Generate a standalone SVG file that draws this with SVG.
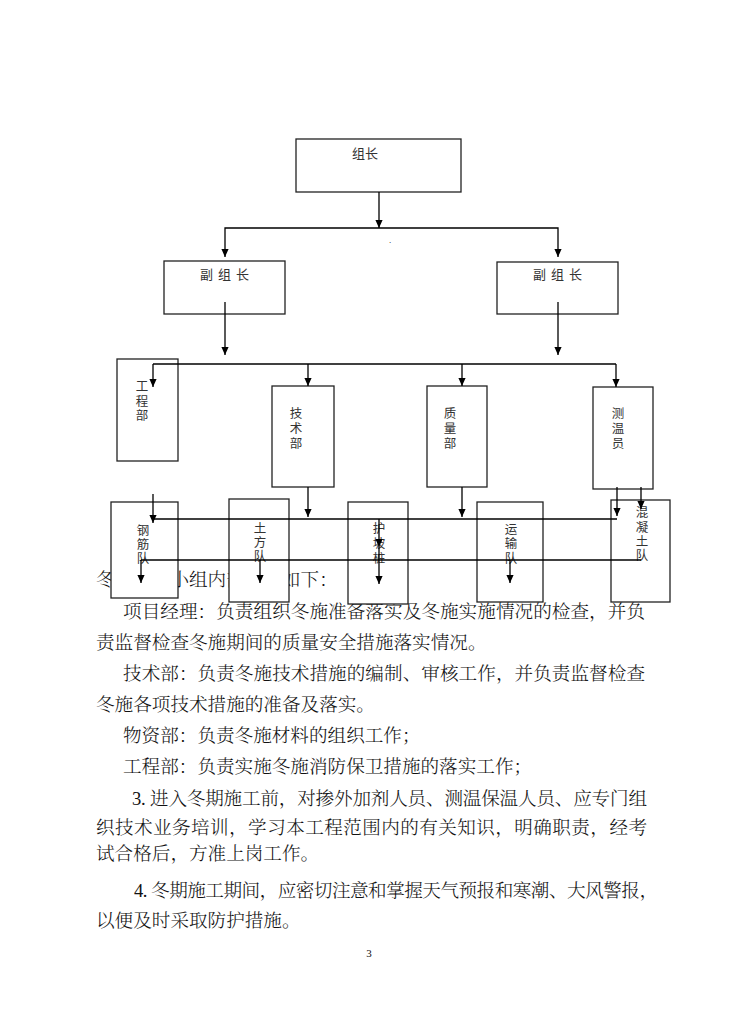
<svg xmlns="http://www.w3.org/2000/svg" width="738" height="1024" viewBox="0 0 738 1024">
<defs>
<style>
.box{fill:#fff;stroke:#222;stroke-width:1.3}
.lbl{font-family:"Noto Sans CJK SC","Noto Sans",sans-serif;font-size:13px;fill:#333}
.vl{font-family:"Noto Sans CJK SC","Noto Sans",sans-serif;font-size:12.5px;fill:#333;text-anchor:middle}
.ln{stroke:#000;stroke-width:1.3;fill:none}
.ar{stroke:#000;stroke-width:1.3;fill:none;marker-end:url(#ah)}
.body{font-family:"Liberation Serif","Noto Serif CJK SC","Noto Sans CJK SC",serif;font-size:18.6px;font-weight:300;fill:#111}
</style>
<marker id="ah" markerUnits="userSpaceOnUse" markerWidth="10" markerHeight="10" viewBox="0 -5 10 10" refX="8" refY="0" orient="auto">
<path d="M0,-3.6 L8,0 L0,3.6 Z" fill="#000"/>
</marker>
</defs>
<rect width="738" height="1024" fill="#fff"/>

<g id="body-text" class="body">
<text x="96" y="586">冬季施工小组内部分工如下：</text>
<text x="123" y="618" textLength="522" lengthAdjust="spacing">项目经理：负责组织冬施准备落实及冬施实施情况的检查，并负</text>
<text x="96" y="649">责监督检查冬施期间的质量安全措施落实情况。</text>
<text x="123" y="680" textLength="522" lengthAdjust="spacing">技术部：负责冬施技术措施的编制、审核工作，并负责监督检查</text>
<text x="96" y="711">冬施各项技术措施的准备及落实。</text>
<text x="123" y="742">物资部：负责冬施材料的组织工作；</text>
<text x="123" y="773">工程部：负责实施冬施消防保卫措施的落实工作；</text>
<text x="132" y="805" textLength="515" lengthAdjust="spacing">3. 进入冬期施工前，对掺外加剂人员、测温保温人员、应专门组</text>
<text x="96" y="834" textLength="551" lengthAdjust="spacing">织技术业务培训，学习本工程范围内的有关知识，明确职责，经考</text>
<text x="96" y="860">试合格后，方准上岗工作。</text>
<text x="134" y="897" textLength="524" lengthAdjust="spacing">4. 冬期施工期间，应密切注意和掌握天气预报和寒潮、大风警报，</text>
<text x="96" y="927">以便及时采取防护措施。</text>
<text x="369" y="957" text-anchor="middle" style="font-size:11px">3</text>
</g>

<g id="n-zuzhang"><rect class="box" x="296" y="139" width="165" height="53"/><text class="lbl" x="352" y="158">组长</text></g>
<g id="n-fuzuzhang-l"><rect class="box" x="164" y="261" width="121" height="53"/><text class="lbl" x="200" y="279" textLength="49" lengthAdjust="spacing">副 组 长</text></g>
<g id="n-fuzuzhang-r"><rect class="box" x="497" y="262" width="121" height="52"/><text class="lbl" x="533" y="279" textLength="49" lengthAdjust="spacing">副 组 长</text></g>
<text x="389" y="243" style="font-family:'Liberation Sans',sans-serif;font-size:8px">.</text>

<g id="n-gongcheng"><rect class="box" x="117" y="359" width="61" height="102"/>
<text class="vl" x="142"><tspan x="142" y="391">工</tspan><tspan x="142" y="405.5">程</tspan><tspan x="142" y="420">部</tspan></text></g>
<g id="n-jishu"><rect class="box" x="272" y="386" width="62" height="101"/>
<text class="vl" x="296"><tspan x="296" y="418">技</tspan><tspan x="296" y="433">术</tspan><tspan x="296" y="448">部</tspan></text></g>
<g id="n-zhiliang"><rect class="box" x="427" y="386" width="60" height="101"/>
<text class="vl" x="450"><tspan x="450" y="418">质</tspan><tspan x="450" y="433">量</tspan><tspan x="450" y="448">部</tspan></text></g>
<g id="n-cewen"><rect class="box" x="593" y="387" width="60" height="102"/>
<text class="vl" x="618"><tspan x="618" y="418">测</tspan><tspan x="618" y="433">温</tspan><tspan x="618" y="448">员</tspan></text></g>

<g id="n-gangjin"><rect class="box" x="111" y="502" width="67" height="96"/>
<text class="vl" x="143"><tspan x="143" y="535">钢</tspan><tspan x="143" y="549">筋</tspan><tspan x="143" y="563">队</tspan></text></g>
<g id="n-tufang"><rect class="box" x="229" y="499" width="60" height="103"/>
<text class="vl" x="260"><tspan x="260" y="533">土</tspan><tspan x="260" y="547">方</tspan><tspan x="260" y="561">队</tspan></text></g>
<g id="n-hupo"><rect class="box" x="348" y="502" width="60" height="102"/>
<text class="vl" x="379"><tspan x="379" y="533">护</tspan><tspan x="379" y="548">坡</tspan><tspan x="379" y="563">桩</tspan></text></g>
<g id="n-yunshu"><rect class="box" x="477" y="502" width="66" height="100"/>
<text class="vl" x="511"><tspan x="511" y="534">运</tspan><tspan x="511" y="548">输</tspan><tspan x="511" y="563">队</tspan></text></g>
<g id="n-hunningtu"><rect class="box" x="611" y="500" width="59" height="102"/>
<text class="vl" x="642"><tspan x="642" y="517">混</tspan><tspan x="642" y="531.5">凝</tspan><tspan x="642" y="546">土</tspan><tspan x="642" y="560">队</tspan></text></g>

<g id="connectors">
<path class="ar" d="M379,192 V228"/>
<path class="ar" d="M379,228 H225 V257"/>
<path class="ar" d="M379,228 H558 V257"/>
<path class="ar" d="M225,302 V355"/>
<path class="ar" d="M558,302 V355"/>
<path class="ln" d="M153,364 H616"/>
<path class="ar" d="M153,364 V387"/>
<path class="ar" d="M308,364 V386"/>
<path class="ar" d="M462,364 V386"/>
<path class="ar" d="M616,364 V387"/>
<path class="ar" d="M153,494 V523"/>
<path class="ln" d="M153,519 H617"/>
<path class="ar" d="M308,487 V517"/>
<path class="ar" d="M462,487 V517"/>
<path class="ar" d="M617,487 V516"/>
<path class="ar" d="M641,487 V509"/>
<path class="ln" d="M141,560 H641"/>
<path class="ar" d="M141,560 V583"/>
<path class="ar" d="M260,560 V583"/>
<path class="ar" d="M379,519 V547"/>
<path class="ar" d="M379,547 V584"/>
<path class="ar" d="M510,560 V583"/>
</g>
</svg>
